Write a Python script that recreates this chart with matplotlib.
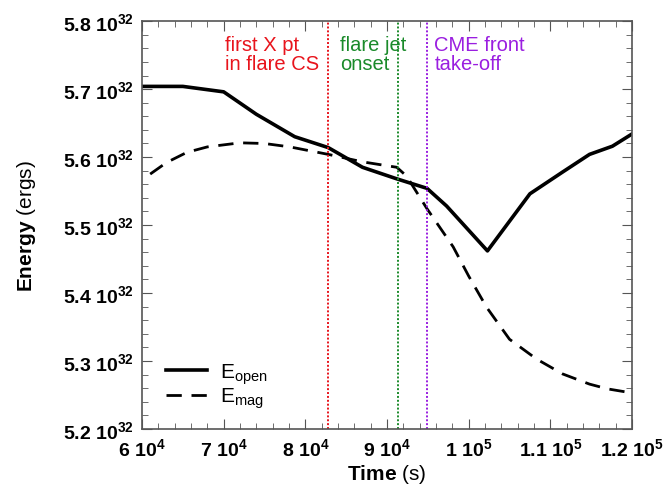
import numpy as np
import matplotlib.pyplot as plt
from matplotlib.ticker import FixedLocator, MultipleLocator

plt.rcParams['font.family'] = ['Liberation Sans', 'DejaVu Sans']
plt.rcParams['mathtext.fontset'] = 'custom'
plt.rcParams['mathtext.rm'] = 'Liberation Sans'
plt.rcParams['mathtext.bf'] = 'Liberation Sans:bold'
plt.rcParams['mathtext.it'] = 'Liberation Sans:italic'

# Energia del flujo abierto
t_open = [60000, 65000, 70000, 74000, 78700, 82800, 87000, 91200, 94900,
          97300, 102300, 107500, 111500, 114800, 117600, 120000]
e_open = [5.704, 5.704, 5.696, 5.663, 5.630, 5.614, 5.585, 5.568, 5.554,
          5.528, 5.462, 5.546, 5.578, 5.604, 5.616, 5.634]

# Energia magnetica
t_mag = [61000, 63000, 65500, 68000, 72000, 75000, 78100, 82800, 87000,
         91200, 92400, 94900, 98100, 100000, 102200, 105000, 108300,
         111500, 114800, 117000, 120000]
e_mag = [5.575, 5.592, 5.607, 5.615, 5.621, 5.620, 5.615, 5.604, 5.593,
         5.585, 5.572, 5.524, 5.468, 5.425, 5.379, 5.332, 5.303,
         5.281, 5.266, 5.259, 5.253]

# Eventos marcados
event_t = [82800, 91300, 94900]
event_labels = ['first X pt\nin flare CS', 'flare jet\nonset', 'CME front\ntake-off']
event_colors = ['#e8141c', '#1a8a2a', '#9a1ee0']
text_x = [70200, 84200, 95800]

x_ticks = [60000, 70000, 80000, 90000, 100000, 110000, 120000]
x_labels = ['6', '7', '8', '9', '1', '1.1', '1.2']
x_exp = ['4', '4', '4', '4', '5', '5', '5']
y_ticks = [5.2, 5.3, 5.4, 5.5, 5.6, 5.7, 5.8]

fig = plt.figure(figsize=(6.68, 4.89), dpi=100)
ax = fig.add_axes([0.2126, 0.1207, 0.7335, 0.834])

ax.plot(t_open, e_open, color='black', lw=2.6, label=r'E$_{\mathrm{open}}$')
ax.plot(t_mag, e_mag, color='black', lw=2.0, dashes=(5.5, 3.5),
        label=r'E$_{\mathrm{mag}}$')

for t, c in zip(event_t, event_colors):
    ax.axvline(t, color=c, lw=1.4, ls=(0, (1, 1)))

for x, lab, c in zip(text_x, event_labels, event_colors):
    ax.text(x, 5.78, lab, color=c, fontsize=14.5, ha='left', va='top',
            multialignment='left', linespacing=1.05)

ax.set_xlim(60000, 120000)
ax.set_ylim(5.2, 5.8)
ax.xaxis.set_major_locator(FixedLocator(x_ticks))
ax.xaxis.set_minor_locator(MultipleLocator(2000))
ax.yaxis.set_major_locator(FixedLocator(y_ticks))
ax.yaxis.set_minor_locator(MultipleLocator(0.02))
ax.set_xticklabels([a + r' $\mathbf{10^{' + e + '}}$' for a, e in zip(x_labels, x_exp)],
                   fontsize=14, fontweight='bold')
ax.set_yticklabels(['%.1f' % v + r' $\mathbf{10^{32}}$' for v in y_ticks],
                   fontsize=14, fontweight='bold')
ax.tick_params(which='both', direction='in', top=True, right=True, color='#555555')
ax.tick_params(which='major', length=7, pad=6)
ax.tick_params(which='minor', length=4)
for s in ax.spines.values():
    s.set_color('#555555')
    s.set_linewidth(1.2)

ax.set_xlabel(r'$\mathbf{Time}$ (s)', fontsize=15, labelpad=2)
ax.set_ylabel(r'$\mathbf{Energy}$ (ergs)', fontsize=15, labelpad=18)

ax.legend(loc='lower left', bbox_to_anchor=(0.01, 0.0), frameon=False,
          fontsize=15, handlelength=2.0, labelspacing=0.0, handletextpad=0.6)

fig.savefig('out.png', dpi=100)
